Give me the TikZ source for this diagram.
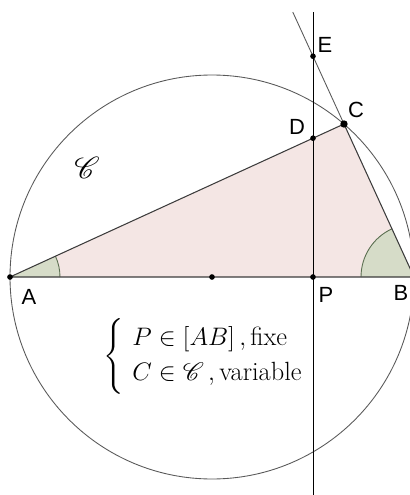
\documentclass[tikz,border=0pt]{standalone}
\usepackage{fontspec}
\usepackage{amsmath}
\usepackage{mathrsfs}
\newfontfamily\labelfont{Liberation Sans}
\usetikzlibrary{angles,calc}
\definecolor{trianglepink}{RGB}{244,230,228}
\definecolor{anglegreen}{RGB}{214,220,200}
\definecolor{anglestroke}{RGB}{90,110,80}
\definecolor{linegray}{RGB}{60,60,60}
\tikzset{
  pt/.style={circle,fill=black,inner sep=0pt,minimum size=3.2pt},
  lbl/.style={font=\labelfont\fontsize{12.5}{14}\selectfont},
  anglemark/.style={draw=anglestroke,fill=anglegreen,line width=0.5pt}
}
\begin{document}
\begin{tikzpicture}[x=0.02cm,y=0.02cm]
            \useasboundingbox (0,0) rectangle (410,495);
            \coordinate (O) at (212,218);
            \coordinate (A) at (10,218);
            \coordinate (B) at (414,218);
            \coordinate (C) at (344,371);
            \coordinate (P) at (313,218);
            \coordinate (Ptop) at (313,483);
            \coordinate (Pbot) at (313,0);
            \coordinate (D) at (intersection of A--C and P--Ptop);
            \coordinate (E) at (intersection of B--C and P--Ptop);
            \coordinate (Ltop) at ($(B)!1.732!(C)$);

            % triangle and angles
            \fill[trianglepink] (A) -- (B) -- (C) -- cycle;
            \pic[anglemark,angle radius=1cm] {angle = B--A--C};
            \pic[anglemark,angle radius=1.06cm] {angle = C--B--A};
            \draw[linegray,line width=0.6pt] (A) -- (B) -- (C) -- cycle;

            % circle and lines
            \draw[gray!70!black,line width=0.5pt] (O) circle (202);
            \draw[gray!70!black,line width=0.5pt] (C) -- (Ltop);
            \draw[black,line width=0.5pt] (Pbot) -- (Ptop);

            % points
            \node[pt] (nA) at (A) {};
            \node[pt] (nO) at (O) {};
            \node[pt] (nP) at (P) {};
            \node[pt] (nD) at (D) {};
            \node[pt] (nE) at (E) {};
            \node[pt,minimum size=4.2pt] (nC) at (C) {};

            % labels
            \node[lbl] (lA) at (29,198) {A};
            \node[lbl] (lB) at (401,202) {B};
            \node[lbl] (lP) at (326,200) {P};
            \node[lbl] (lC) at (356,385) {C};
            \node[lbl] (lD) at (297,368) {D};
            \node[lbl] (lE) at (325,450) {E};
            \node (lCircle) at (87,327) {\fontsize{18}{20}\selectfont$\mathscr{C}$};
            \node[anchor=west] (cond) at (97,139) {\fontsize{15}{18}\selectfont
              $\left\{\renewcommand{\arraystretch}{1.1}\begin{array}{l}
                P\in[AB]\,,\text{fixe}\\
                C\in\mathscr{C}\,,\text{variable}
              \end{array}\right.$};
\end{tikzpicture}
\end{document}
